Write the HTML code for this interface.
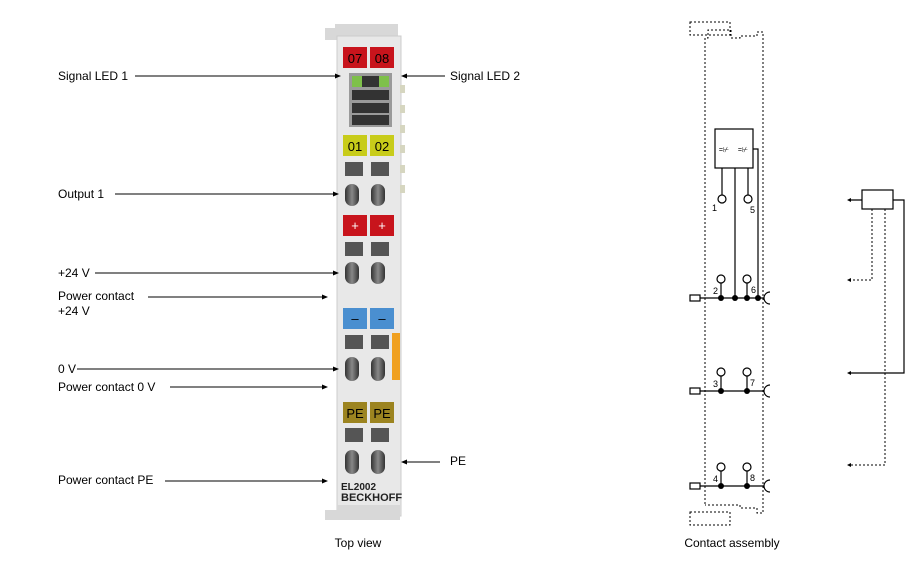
<!DOCTYPE html>
<html><head><meta charset="utf-8"><style>
body{margin:0;width:909px;height:581px;background:#fff;overflow:hidden;font-family:"Liberation Sans",sans-serif}
svg{position:absolute;left:0;top:0}
</style></head><body>
<svg width="909" height="581" viewBox="0 0 909 581" font-family="Liberation Sans, sans-serif">
<defs>
<marker id="a" markerWidth="6" markerHeight="6" refX="5" refY="3" orient="auto"><path d="M0,0.5 L6,3 L0,5.5z" fill="#000"/></marker>
<linearGradient id="ov" x1="0" x2="1"><stop offset="0" stop-color="#333"/><stop offset=".5" stop-color="#888"/><stop offset="1" stop-color="#333"/></linearGradient>
</defs>
<!-- module -->
<path d="M325,40 V28 H335 V24 H398 V40 Z" fill="#d8d8d8"/>
<rect x="337" y="36" width="64" height="480" fill="#e8e8e8" stroke="#ccc"/>
<path d="M325,520 V510 H337 V505 H400 V520 Z" fill="#d8d8d8"/>
<g font-size="13" text-anchor="middle" font-family="Liberation Sans Narrow, Liberation Sans, sans-serif">
<rect x="343" y="47" width="24" height="21" fill="#c8141c"/><rect x="370" y="47" width="24" height="21" fill="#c8141c"/>
<text x="355" y="63">07</text><text x="382" y="63">08</text>
<rect x="349" y="73" width="43" height="54" fill="#9a9a9a"/>
<rect x="352" y="76" width="37" height="11" fill="#333"/><rect x="352" y="76" width="10" height="11" fill="#7ec04a"/><rect x="379" y="76" width="10" height="11" fill="#7ec04a"/>
<rect x="352" y="90" width="37" height="10" fill="#333"/><rect x="352" y="103" width="37" height="10" fill="#333"/><rect x="352" y="115" width="37" height="10" fill="#333"/>
<rect x="343" y="135" width="24" height="21" fill="#c8cc1a"/><rect x="370" y="135" width="24" height="21" fill="#c8cc1a"/>
<text x="355" y="151">01</text><text x="382" y="151">02</text>
<rect x="343" y="215" width="24" height="21" fill="#c8141c"/><rect x="370" y="215" width="24" height="21" fill="#c8141c"/>
<text x="355" y="230" fill="#fff">+</text><text x="382" y="230" fill="#fff">+</text>
<rect x="343" y="308" width="24" height="21" fill="#4a8fd0"/><rect x="370" y="308" width="24" height="21" fill="#4a8fd0"/>
<text x="355" y="323">–</text><text x="382" y="323">–</text>
<rect x="343" y="402" width="24" height="21" fill="#9c8420"/><rect x="370" y="402" width="24" height="21" fill="#9c8420"/>
<text x="355" y="418">PE</text><text x="382" y="418">PE</text>
</g>
<rect x="392" y="333" width="8" height="47" fill="#f0a020"/>
<g fill="#d6d6c0"><rect x="400" y="85" width="5" height="8"/><rect x="400" y="105" width="5" height="8"/><rect x="400" y="125" width="5" height="8"/><rect x="400" y="145" width="5" height="8"/><rect x="400" y="165" width="5" height="8"/><rect x="400" y="185" width="5" height="8"/></g>
<g>
<rect x="345" y="162" width="18" height="14" fill="#555"/><rect x="371" y="162" width="18" height="14" fill="#555"/>
<rect x="345" y="184" width="14" height="22" rx="7" fill="url(#ov)"/><rect x="371" y="184" width="14" height="22" rx="7" fill="url(#ov)"/>
<rect x="345" y="242" width="18" height="14" fill="#555"/><rect x="371" y="242" width="18" height="14" fill="#555"/>
<rect x="345" y="262" width="14" height="22" rx="7" fill="url(#ov)"/><rect x="371" y="262" width="14" height="22" rx="7" fill="url(#ov)"/>
<rect x="345" y="335" width="18" height="14" fill="#555"/><rect x="371" y="335" width="18" height="14" fill="#555"/>
<rect x="345" y="357" width="14" height="24" rx="7" fill="url(#ov)"/><rect x="371" y="357" width="14" height="24" rx="7" fill="url(#ov)"/>
<rect x="345" y="428" width="18" height="14" fill="#555"/><rect x="371" y="428" width="18" height="14" fill="#555"/>
<rect x="345" y="450" width="14" height="24" rx="7" fill="url(#ov)"/><rect x="371" y="450" width="14" height="24" rx="7" fill="url(#ov)"/>
</g>
<text x="341" y="490" font-size="10" font-weight="bold" fill="#222">EL2002</text>
<text x="341" y="501" font-size="11" font-weight="bold" fill="#222">BECKHOFF</text>
<!-- labels -->
<g font-size="12" fill="#000">
<text x="58" y="80">Signal LED 1</text><text x="450" y="80">Signal LED 2</text>
<text x="58" y="198">Output 1</text><text x="58" y="277">+24 V</text>
<text x="58" y="300">Power contact</text><text x="58" y="315">+24 V</text>
<text x="58" y="373">0 V</text><text x="58" y="391">Power contact 0 V</text>
<text x="450" y="465">PE</text><text x="58" y="484">Power contact PE</text>
<text x="358" y="547" text-anchor="middle">Top view</text>
<text x="732" y="547" text-anchor="middle">Contact assembly</text>
</g>
<g stroke="#000" stroke-width="1" marker-end="url(#a)">
<line x1="135" y1="76" x2="340" y2="76"/><line x1="445" y1="76" x2="402" y2="76"/>
<line x1="115" y1="194" x2="338" y2="194"/><line x1="95" y1="273" x2="338" y2="273"/>
<line x1="148" y1="297" x2="327" y2="297"/><line x1="77" y1="369" x2="338" y2="369"/>
<line x1="170" y1="387" x2="327" y2="387"/><line x1="440" y1="462" x2="402" y2="462"/>
<line x1="165" y1="481" x2="327" y2="481"/>
</g>
<!-- contact assembly -->
<g fill="none" stroke="#000" stroke-width="1" stroke-dasharray="2,2">
<path d="M705,504 V38 H708 V30 H731 V38 H740 V36 H757 V32 H763 V513 H757 V508 H740 V505 H705"/>
<rect x="690" y="22" width="40" height="13"/><rect x="690" y="512" width="40" height="13"/>
<path d="M872,209 V280 H850"/><path d="M885,209 V465 H850"/>
</g>
<g fill="none" stroke="#000" stroke-width="1.2">
<rect x="715" y="129" width="38" height="39"/>
<path d="M722,168 V195 M735,168 V298 M748,168 V195 M753,149 H758 V298"/>
<circle cx="722" cy="199" r="4"/><circle cx="748" cy="199" r="4"/>
<path d="M700,298 H764 M700,391 H764 M700,486 H764"/>
<rect x="690" y="295" width="10" height="6"/><rect x="690" y="388" width="10" height="6"/><rect x="690" y="483" width="10" height="6"/>
<path d="M770,292 A6,6 0 0 0 770,304 M770,385 A6,6 0 0 0 770,397 M770,480 A6,6 0 0 0 770,492"/>
<circle cx="721" cy="279" r="4"/><circle cx="747" cy="279" r="4"/><path d="M721,283 V298 M747,283 V298"/>
<circle cx="721" cy="372" r="4"/><circle cx="747" cy="372" r="4"/><path d="M721,376 V391 M747,376 V391"/>
<circle cx="721" cy="467" r="4"/><circle cx="747" cy="467" r="4"/><path d="M721,471 V486 M747,471 V486"/>
<rect x="862" y="190" width="31" height="19"/>
<path d="M862,200 H850 M893,200 H904 V373 H850"/>
</g>
<g font-size="7" font-family="Liberation Sans" text-anchor="middle"><text x="724" y="152">=⊬</text><text x="743" y="152">=⊬</text></g>
<g fill="#000"><circle cx="721" cy="298" r="3"/><circle cx="735" cy="298" r="3"/><circle cx="747" cy="298" r="3"/><circle cx="758" cy="298" r="3"/>
<circle cx="721" cy="391" r="3"/><circle cx="747" cy="391" r="3"/><circle cx="721" cy="486" r="3"/><circle cx="747" cy="486" r="3"/>
<path d="M847,200 l4,-2 v4z M847,280 l4,-2 v4z M847,373 l4,-2 v4z M847,465 l4,-2 v4z"/></g>
<g font-size="9"><text x="712" y="211">1</text><text x="750" y="213">5</text><text x="713" y="294">2</text><text x="751" y="293">6</text><text x="713" y="387">3</text><text x="750" y="386">7</text><text x="713" y="482">4</text><text x="750" y="481">8</text></g>
</svg>
</body></html>
